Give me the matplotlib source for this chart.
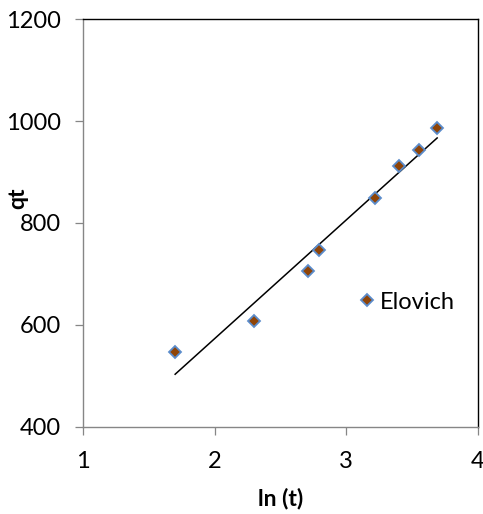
import numpy as np
import matplotlib
matplotlib.use("Agg")
import matplotlib.pyplot as plt

plt.rcParams['font.family'] = ['Lato', 'DejaVu Sans']

# ln(t) and qt
ln_t = [1.70, 2.30, 2.71, 2.79, 3.22, 3.40, 3.555, 3.69]
qt = [548, 608, 705, 748, 850, 912, 943, 987]

series_name = "Elovich"
x_ticks = [1, 2, 3, 4]
y_ticks = [400, 600, 800, 1000, 1200]

fig = plt.figure(figsize=(4.83, 5.14), dpi=100)
ax = fig.add_axes([0.1718, 0.1693, 0.8178, 0.7937])

# linear trend line over the data range
k, b = np.polyfit(ln_t, qt, 1)
xs = np.array([min(ln_t), max(ln_t)])
ax.plot(xs, k * xs + b, color='black', lw=1.1, zorder=2)

ax.plot(ln_t, qt, linestyle='none', marker='D', ms=6.4,
        markerfacecolor='#8f4407', markeredgecolor='#5b8ccb', mew=1.3,
        label=series_name, zorder=3)

ax.set_xlim(1, 4)
ax.set_ylim(400, 1200)
ax.set_xticks(x_ticks)
ax.set_yticks(y_ticks)
ax.tick_params(axis='both', direction='out', length=6, width=0.9,
               color='#868686', labelsize=17)
ax.tick_params(axis='y', pad=10)
ax.tick_params(axis='x', pad=11)

for s in ['top', 'right']:
    ax.spines[s].set_color('black')
    ax.spines[s].set_linewidth(1.0)
for s in ['left', 'bottom']:
    ax.spines[s].set_color('#868686')
    ax.spines[s].set_linewidth(1.0)

ax.set_xlabel('ln (t)', fontsize=16.5, fontweight='bold')
ax.set_ylabel('qt', fontsize=16.5, fontweight='bold')
ax.xaxis.set_label_coords(0.5, -0.148)
ax.yaxis.set_label_coords(-0.139, 0.561)

ax.legend(loc='center left', bbox_to_anchor=(0.667, 0.306), frameon=False,
          handlelength=0.9, handletextpad=0.1, fontsize=17,
          borderaxespad=0)

fig.savefig('out.png', dpi=100)
